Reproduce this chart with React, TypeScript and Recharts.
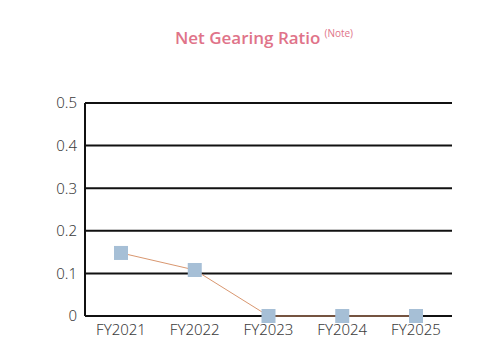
import { LineChart, Line, XAxis, YAxis, CartesianGrid } from "recharts";

const years = ["FY2021", "FY2022", "FY2023", "FY2024", "FY2025"];
const ratios = [0.148, 0.108, 0, 0, 0];
const yTicks = [0, 0.1, 0.2, 0.3, 0.4, 0.5];

const data = years.map((year, i) => ({ year, ratio: ratios[i] }));

const tickStyle = { fontSize: 15, fill: "#3c3c3c", fontFamily: "'Noto Sans', sans-serif", fontWeight: 300 };

function Square(props: any) {
  const { cx, cy } = props;
  if (cx == null || cy == null) return null;
  return <rect x={cx - 7} y={cy - 7} width={14} height={14} fill="#a6bfd6" />;
}

export default function App() {
  return (
    <div style={{ position: "fixed", left: 0, top: 0, width: 488, height: 357, background: "#fff" }}>
      <div
        style={{
          position: "absolute", left: 0, width: 488, top: 26, textAlign: "center",
          color: "#e07389", fontFamily: "'Open Sans', sans-serif", fontWeight: 600, fontSize: 17,
          paddingLeft: 40, boxSizing: "border-box",
        }}
      >
        Net Gearing Ratio
        <span style={{ fontSize: 10, verticalAlign: "7px", marginLeft: 4, fontWeight: 400 }}>(Note)</span>
      </div>
      <LineChart width={488} height={357} data={data} margin={{ top: 103, right: 36, bottom: 11, left: 0 }}>
        <CartesianGrid vertical={false} stroke="#111" strokeWidth={2} />
        <XAxis
          dataKey="year"
          padding={{ left: 36, right: 36 }}
          tick={tickStyle}
          tickLine={false}
          axisLine={false}
          height={30}
        />
        <YAxis
          domain={[0, 0.5]}
          ticks={yTicks}
          tick={tickStyle}
          tickLine={false}
          axisLine={{ stroke: "#111", strokeWidth: 2 }}
          width={85}
        />
        <Line
          dataKey="ratio"
          stroke="#d99770"
          strokeWidth={1}
          dot={<Square />}
          isAnimationActive={false}
        />
      </LineChart>
    </div>
  );
}
